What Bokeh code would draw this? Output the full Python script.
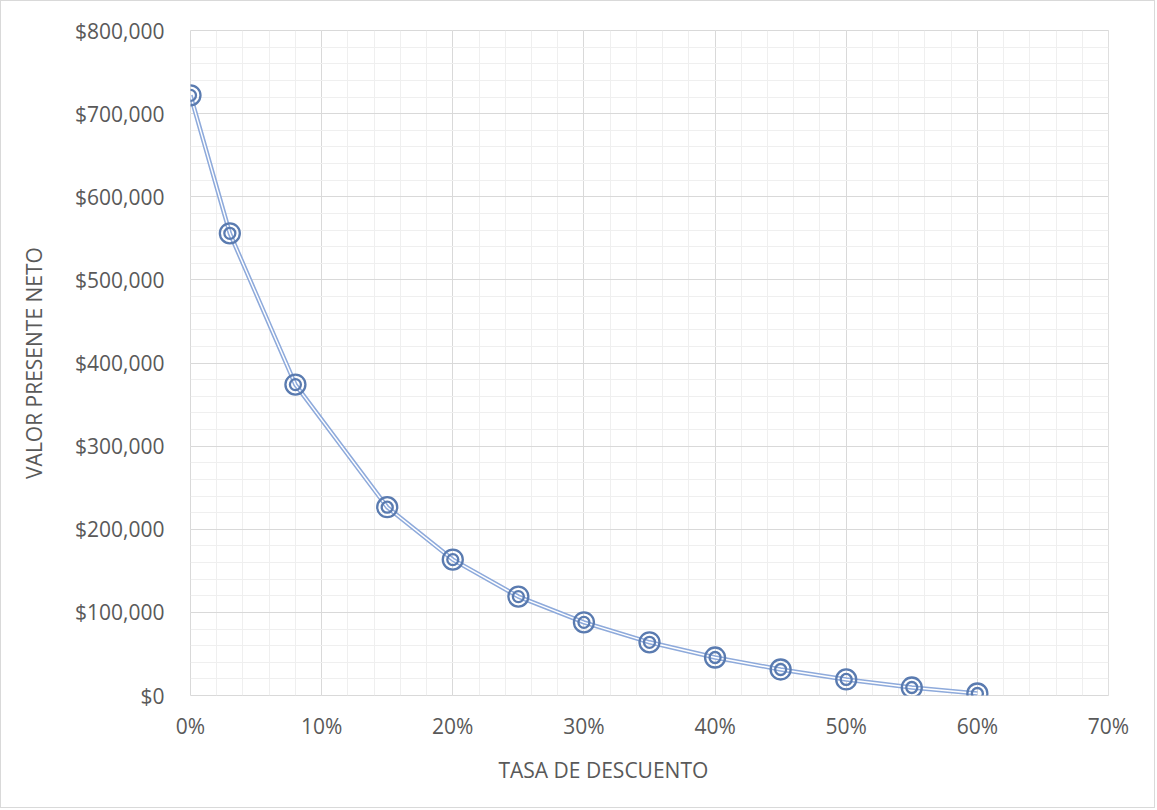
from bokeh.plotting import figure
from bokeh.models import NumeralTickFormatter, SingleIntervalTicker, Range1d, ColumnDataSource, Title
from bokeh.embed import file_html
from bokeh.resources import INLINE

# Net present value at each discount rate
tasas = [0.00, 0.03, 0.08, 0.15, 0.20, 0.25, 0.30, 0.35, 0.40, 0.45, 0.50, 0.55, 0.60]
vpn = [722000, 556000, 374000, 226500, 163500, 119000, 88000, 64000, 45700, 31300, 19300, 9600, 2400]

x_ticks = [0.0, 0.1, 0.2, 0.3, 0.4, 0.5, 0.6, 0.7]
y_ticks = [0, 100000, 200000, 300000, 400000, 500000, 600000, 700000, 800000]

FONT = "Open Sans"
TEXT = "#595959"
MAJOR = "#d9d9d9"
MINOR = "#efefef"
FSIZE = "21px"

src = ColumnDataSource(dict(x=tasas, y=vpn))

p = figure(
    width=1155, height=808,
    # tiny pad so the 70% tick survives floating-point rounding
    x_range=Range1d(x_ticks[0], x_ticks[-1] + 1e-9),
    y_range=Range1d(y_ticks[0], y_ticks[-1]),
    output_backend="svg", toolbar_location=None,
    min_border_left=189, min_border_right=48,
    min_border_top=29, min_border_bottom=114,
)
p.styles = {"border": "1px solid #d9d9d9"}
p.background_fill_color = "white"
p.border_fill_color = "white"
p.outline_line_color = MAJOR

p.xaxis.ticker = SingleIntervalTicker(interval=0.1, num_minor_ticks=5)
p.yaxis.ticker = SingleIntervalTicker(interval=100000, num_minor_ticks=5)
p.xaxis.formatter = NumeralTickFormatter(format="0%")
p.yaxis.formatter = NumeralTickFormatter(format="$0,0")

for ax in (p.xaxis[0], p.yaxis[0]):
    ax.axis_line_color = None
    ax.major_tick_line_color = None
    ax.minor_tick_line_color = None
    ax.major_label_text_font = FONT
    ax.major_label_text_font_size = FSIZE
    ax.major_label_text_color = TEXT
    ax.axis_label_text_font = FONT
    ax.axis_label_text_font_size = FSIZE
    ax.axis_label_text_color = TEXT
    ax.axis_label_text_font_style = "normal"

p.yaxis.axis_label = "VALOR PRESENTE NETO"
p.xaxis.major_label_standoff = 10
p.yaxis.major_label_standoff = 20
p.yaxis.axis_label_standoff = 24

# horizontal axis title, set a little left of the plot's centre
p.add_layout(Title(text="TASA DE DESCUENTO", align="left", offset=308, standoff=22,
                   text_font=FONT, text_font_size=FSIZE, text_color=TEXT,
                   text_font_style="normal"), "below")

for g in (p.xgrid[0], p.ygrid[0]):
    g.grid_line_color = MAJOR
    g.grid_line_width = 1
    g.minor_grid_line_color = MINOR
    g.minor_grid_line_width = 1

# double (compound) connecting line
p.line("x", "y", source=src, line_color="#8eaadb", line_width=4.5)
p.line("x", "y", source=src, line_color="white", line_width=1.4)

# concentric ring markers
ring = "#5a7bb0"
p.scatter("x", "y", source=src, marker="circle", size=20, fill_color=None,
          line_color=ring, line_width=2.3)
p.scatter("x", "y", source=src, marker="circle", size=11, fill_color=None,
          line_color=ring, line_width=2.3)

open("out.html", "w").write(file_html(p, INLINE))
